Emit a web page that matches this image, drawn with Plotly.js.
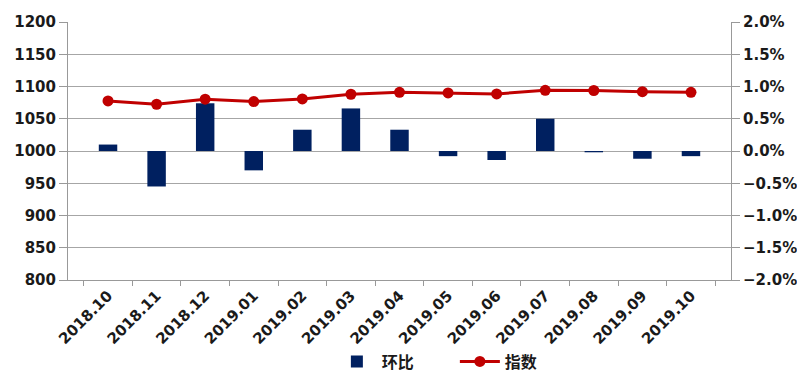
<!DOCTYPE html>
<html>
<head>
<meta charset="utf-8">
<script src="https://cdn.plot.ly/plotly-3.0.1.min.js"></script>
<style>html,body{margin:0;padding:0;background:#fff;}#chart{width:797px;height:372px;}</style>
</head>
<body>
<div id="chart"></div>
<script>
const months = ["2018.10","2018.11","2018.12","2019.01","2019.02","2019.03","2019.04","2019.05","2019.06","2019.07","2019.08","2019.09","2019.10"];
const momChange = [0.0010,-0.0055,0.0074,-0.0030,0.0033,0.0066,0.0033,-0.0008,-0.0014,0.0050,-0.0002,-0.0012,-0.0008];
const indexValues = [1077.6,1072.5,1080.3,1076.7,1080.7,1088.0,1091.0,1090.0,1088.5,1094.0,1093.8,1092.0,1091.0];
const leftTicks = [800,850,900,950,1000,1050,1100,1150,1200];
const rightTicks = [-0.02,-0.015,-0.01,-0.005,0,0.005,0.01,0.015,0.02];

const tickFont = {family: "DejaVu Sans", size: 15, color: "#1a1a1a", weight: "bold"};

const traces = [
  {
    type: "bar", name: "环比", x: months, y: momChange, yaxis: "y",
    marker: {color: "#002060"}, width: 0.38
  },
  {
    type: "scatter", mode: "lines+markers", name: "指数", x: months, y: indexValues, yaxis: "y2",
    line: {color: "#c00000", width: 3}, marker: {color: "#c00000", size: 11}
  }
];

const layout = {
  width: 797, height: 372,
  margin: {l: 68, r: 66, t: 22, b: 92},
  paper_bgcolor: "#fff", plot_bgcolor: "#fff",
  showlegend: true,
  legend: {orientation: "h", x: 0.398, xanchor: "left", yref: "container", y: 0.028, yanchor: "middle",
           font: {family: "Noto Sans CJK SC", size: 16, color: "#1a1a1a", weight: "bold"},
           itemwidth: 40, entrywidth: 68},
  xaxis: {
    type: "category", tickangle: -45, tickfont: tickFont, automargin: false,
    ticks: "outside", tickson: "boundaries", ticklen: 5, tickcolor: "#999",
    showline: true, linecolor: "#999", linewidth: 1, showgrid: false, zeroline: false
  },
  yaxis: {
    side: "right", range: [-0.02, 0.02], tickvals: rightTicks, tickformat: ".1%", automargin: false,
    tickfont: tickFont, ticks: "outside", ticklen: 8, tickcolor: "#999",
    showline: true, linecolor: "#999", showgrid: true, gridcolor: "#a6a6a6", zeroline: false
  },
  yaxis2: {
    overlaying: "y", side: "left", range: [800, 1200], tickvals: leftTicks, automargin: false,
    tickfont: tickFont, ticks: "outside", ticklen: 8, tickcolor: "#999",
    showline: true, linecolor: "#999", showgrid: false, zeroline: false
  },
  bargap: 0.6
};

Plotly.newPlot("chart", traces, layout, {displayModeBar: false, staticPlot: true});
</script>
</body>
</html>
